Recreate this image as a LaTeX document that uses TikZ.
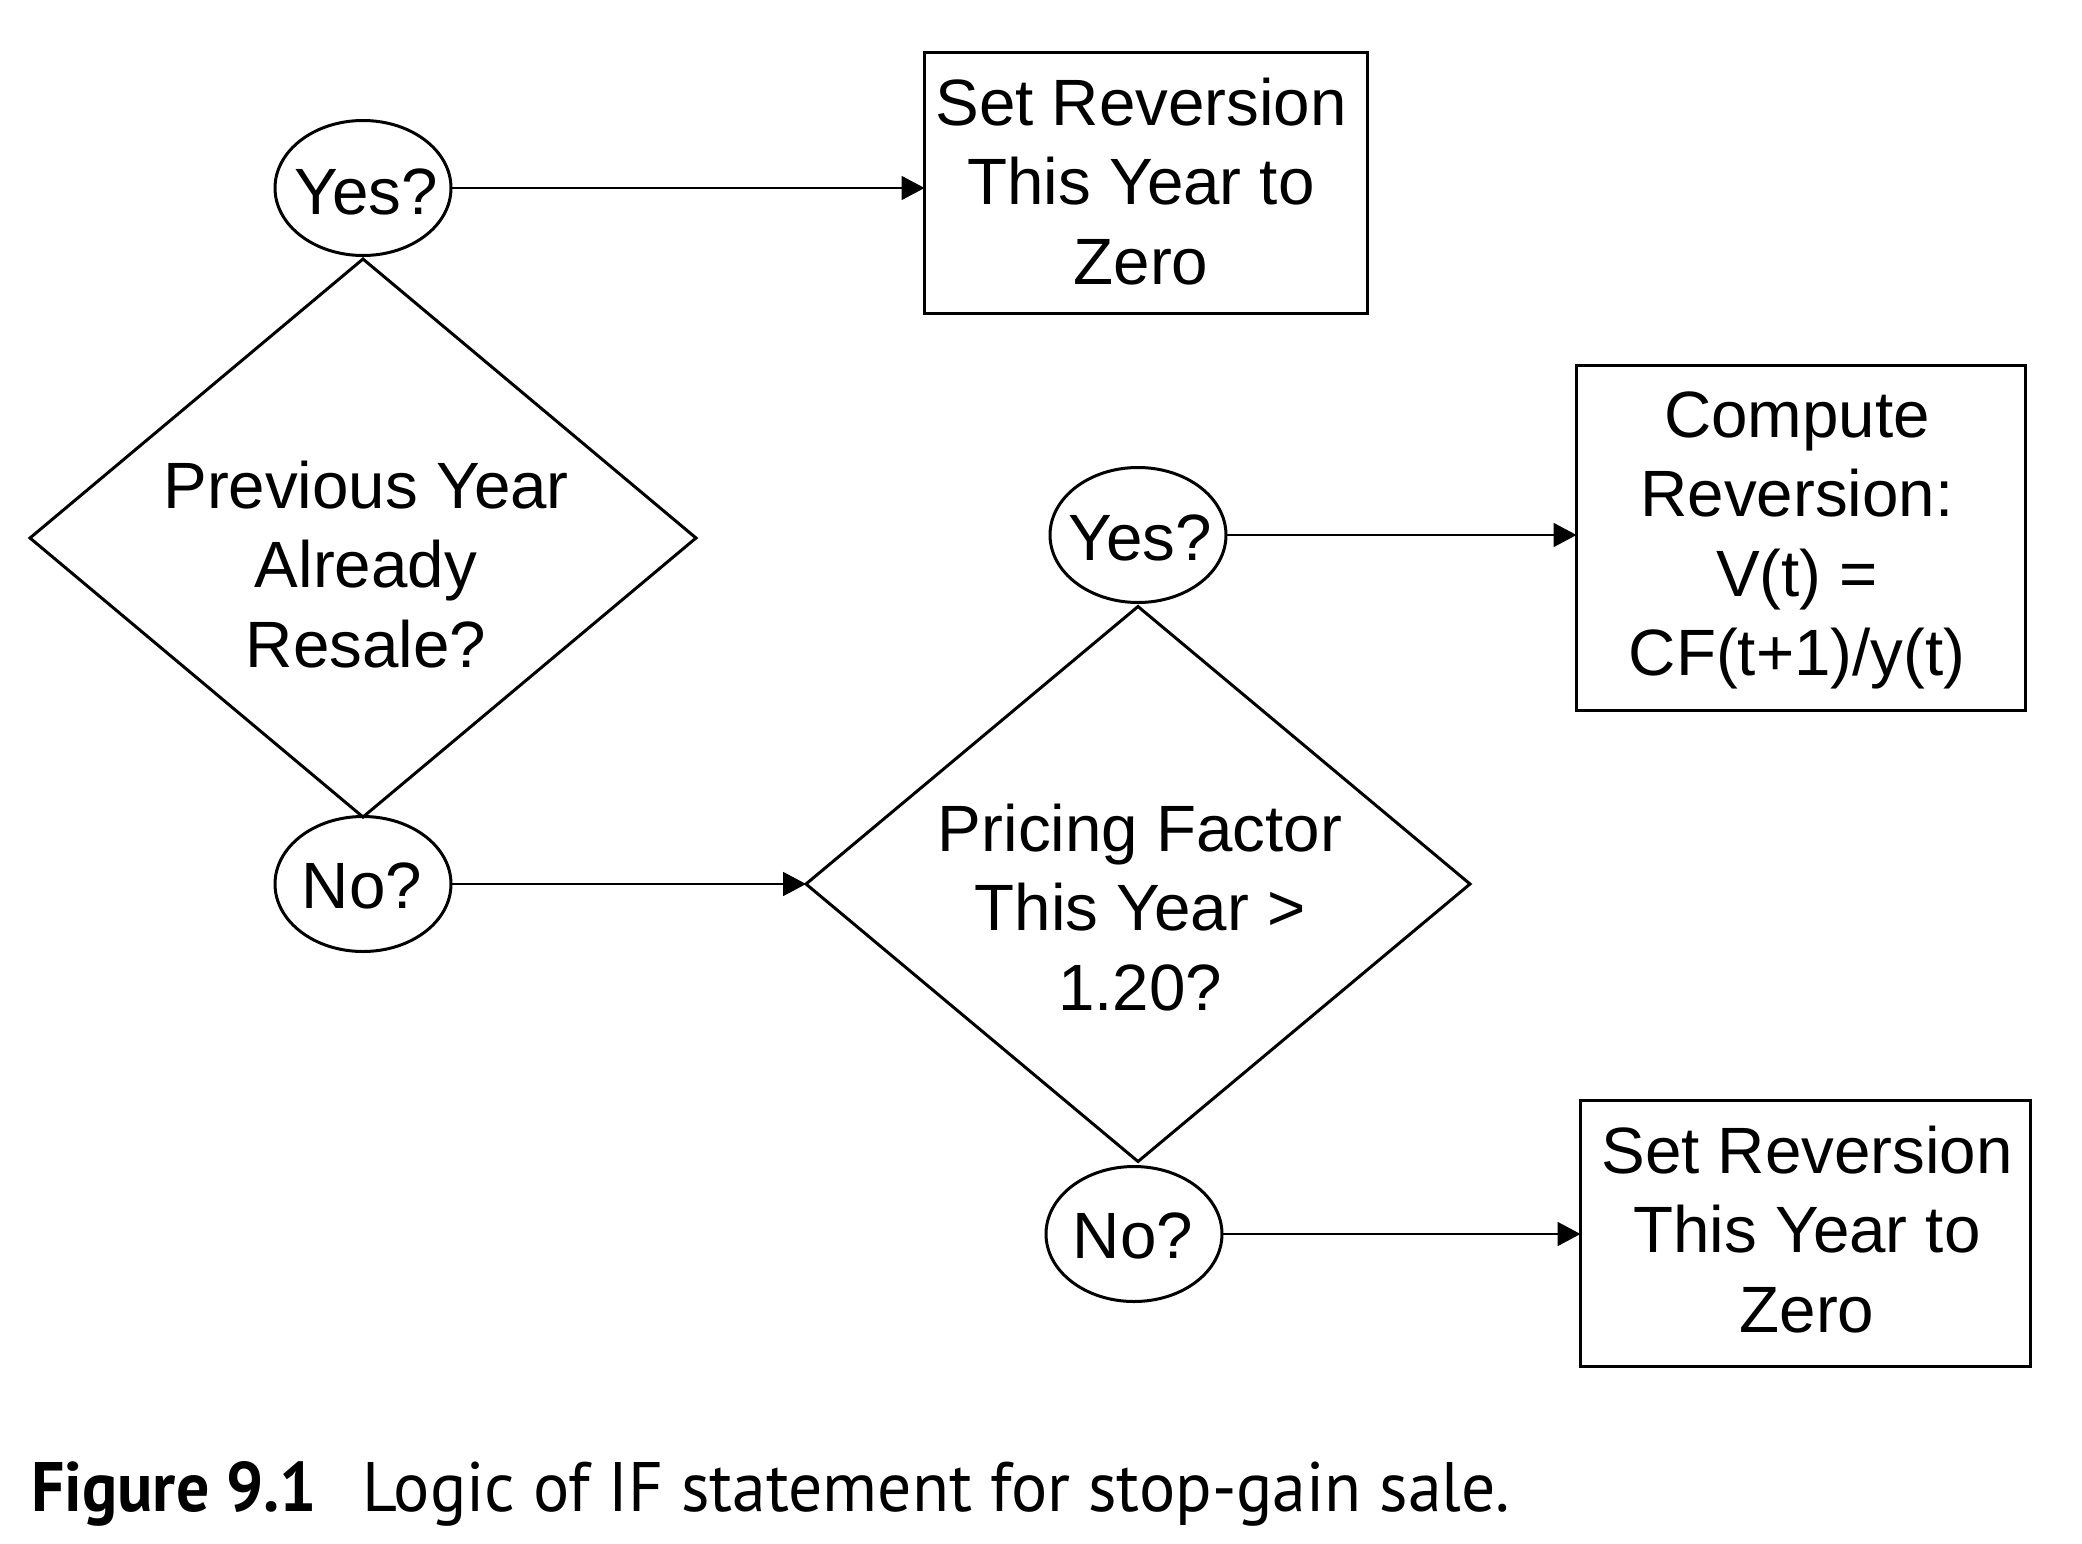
\documentclass[tikz,border=0pt]{standalone}
\usepackage{graphicx}
\usepackage{fontspec}
\setmainfont{Liberation Sans}
\newfontfamily\capfont{PT Sans}
\usetikzlibrary{shapes.geometric,arrows.meta}
\newcommand{\mlines}[1]{\begin{tabular}[t]{@{}c@{}}#1\end{tabular}}
\begin{document}
\begin{tikzpicture}[x=1pt,y=-1pt,
  shp/.style={draw=black, line width=3pt, inner sep=0pt, outer sep=0pt},
  qbox/.style={shp, rectangle},
  qoval/.style={shp, ellipse, minimum width=176pt, minimum height=135pt},
  qdia/.style={shp, diamond},
  lbl/.style={anchor=base, inner sep=0pt, font=\fontsize{65.5}{79.5}\selectfont},
  conn/.style={line width=1.8pt, -{Triangle[length=23pt,width=24pt]}}]
\useasboundingbox (0,0) rectangle (2082,1544);
\fill[white] (0,0) rectangle (2082,1544);
% shapes
\node[qoval] (yes1) at (363,188) {};
\node[qoval] (no1) at (363,884) {};
\node[qoval] (yes2) at (1138,535) {};
\node[qoval] (no2) at (1134,1234) {};
\node[qdia, minimum width=666pt, minimum height=558pt] (d1) at (363,538) {};
\node[qdia, minimum width=664pt, minimum height=555pt] (d2) at (1138,884) {};
\node[qbox, minimum width=443pt, minimum height=261pt] (b1) at (1146,183) {};
\node[qbox, minimum width=449pt, minimum height=345pt] (b2) at (1801,538) {};
\node[qbox, minimum width=450pt, minimum height=266pt] (b3) at (1805.5,1233.5) {};
% texts
\node[lbl] (tyes1) at (366,214) {Yes?};
\node[lbl] (tno1) at (362,908) {No?};
\node[lbl] (tyes2) at (1140,560) {Yes?};
\node[lbl] (tno2) at (1133,1258) {No?};
\node[lbl] (td1) at (366,508) {\mlines{Previous Year\\Already\\Resale?}};
\node[lbl] (td2) at (1140,851) {\mlines{Pricing Factor\\This Year >\\1.20?}};
\node[lbl] (tb1) at (1141,125) {\mlines{Set Reversion\\This Year to\\Zero}};
\node[lbl] (tb2) at (1797,437) {\mlines{Compute\\Reversion:\\V(t) =\\CF(t+1)/y(t)}};
\node[lbl] (tb3) at (1807,1173) {\mlines{Set Reversion\\This Year to\\Zero}};
% connectors
\draw[conn] (yes1.east) -- (yes1.east -| b1.west);
\draw[conn] (yes2.east) -- (yes2.east -| b2.west);
\draw[conn] (no1.east) -- (d2.west);
\draw[conn] (no2.east) -- (no2.east -| b3.west);
% caption
\node[anchor=base west, inner sep=0pt, font=\capfont\fontsize{70}{84}\selectfont] (cap) at (31,1511)
  {\scalebox{0.94}[1]{\textbf{Figure 9.1}}\hspace{46pt}\scalebox{0.967}[1]{Logic of IF statement for stop-gain sale.}};
\end{tikzpicture}
\end{document}
